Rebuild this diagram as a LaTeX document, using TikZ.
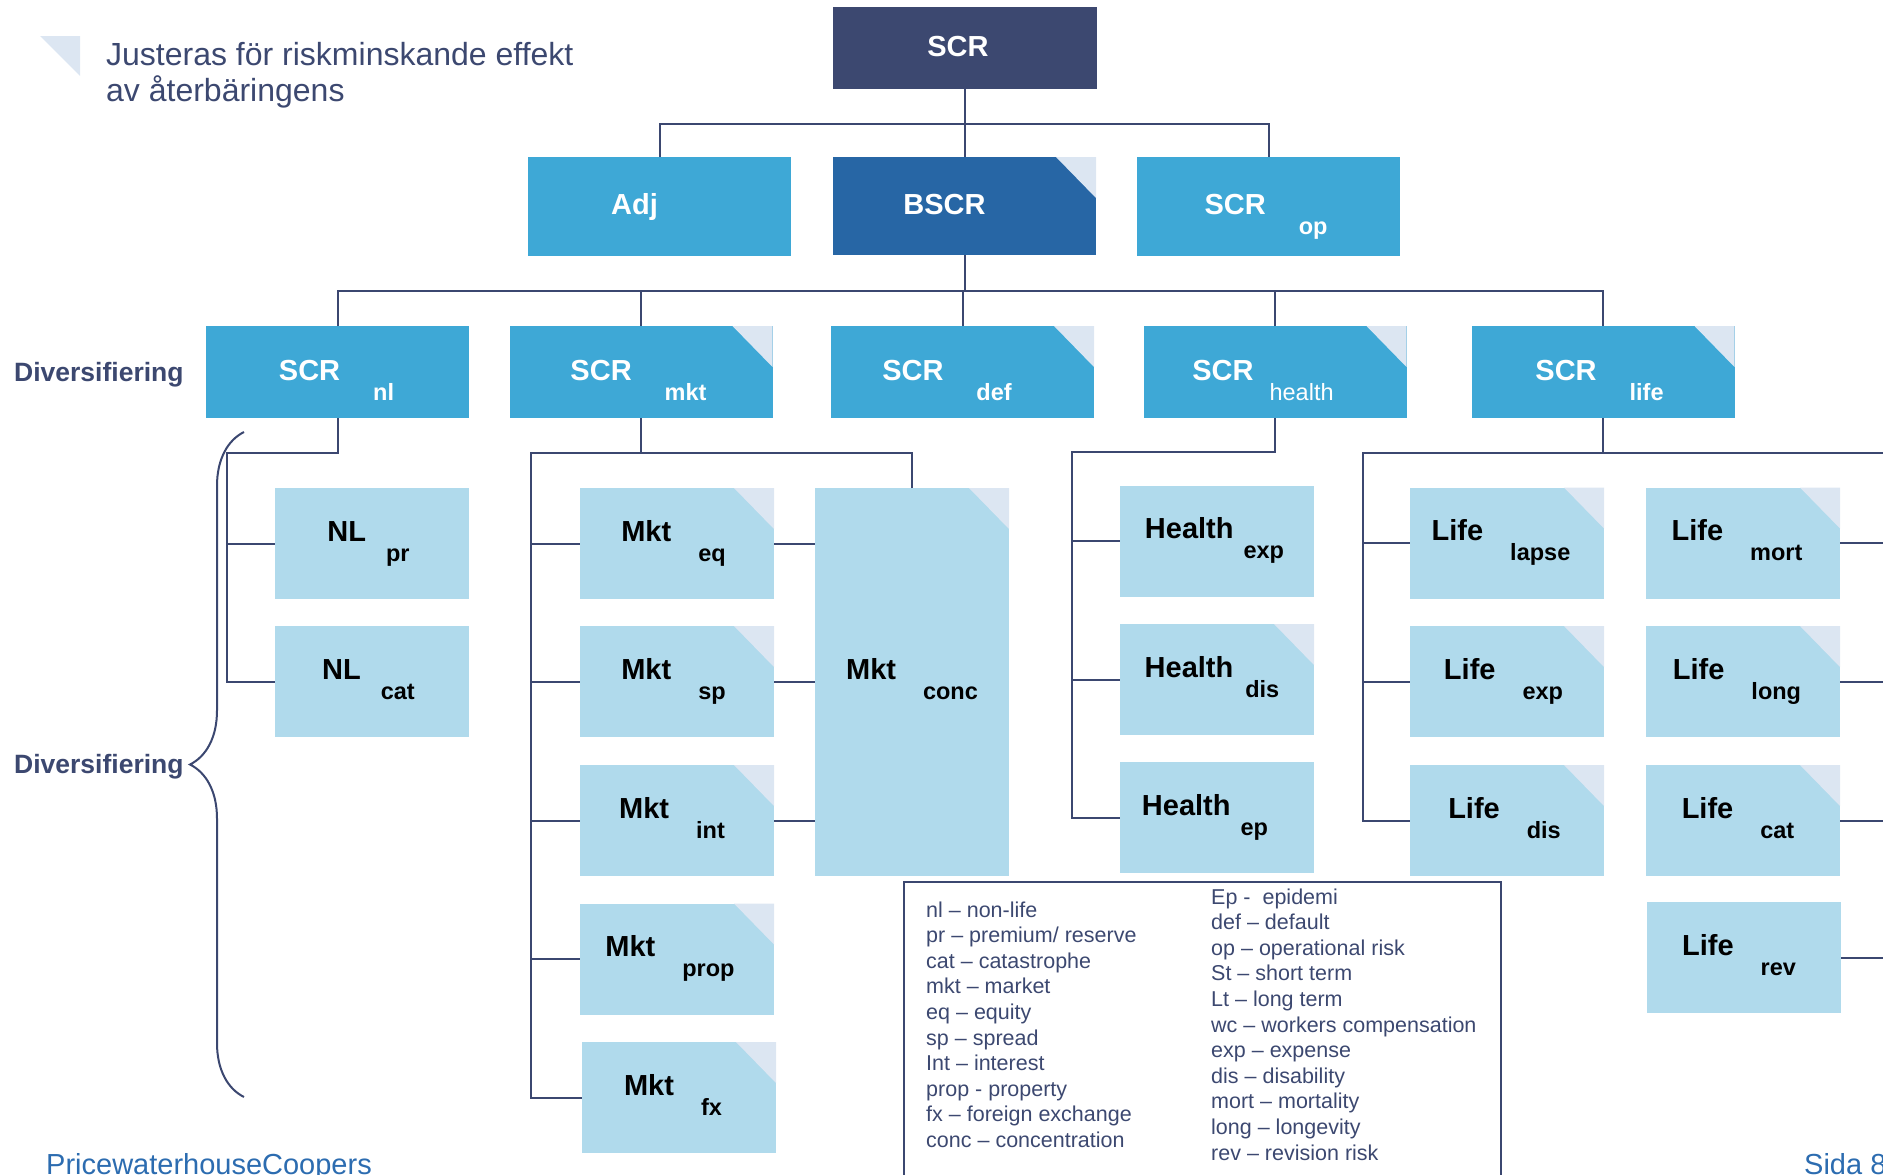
\documentclass[tikz,border=0pt]{standalone}
\usepackage{fontspec}
\setmainfont{Liberation Sans}
\usepackage{tikz}
\usetikzlibrary{calc,positioning}
\usetikzlibrary{decorations.pathreplacing}

\definecolor{scrnavy}{RGB}{60,72,112}
\definecolor{bscrblue}{RGB}{39,102,165}
\definecolor{midblue}{RGB}{62,168,214}
\definecolor{paleblue}{RGB}{176,218,236}
\definecolor{foldgrey}{RGB}{220,230,242}
\definecolor{wirenavy}{RGB}{59,71,112}
\definecolor{pwcblue}{RGB}{44,108,176}

% index below and to the right of the module name
\newcommand{\risksub}[2][27pt]{\hspace{#1}\raisebox{-20pt}{\fontsize{23.5}{26}\selectfont #2}}
% room on the right, so the text sits left of the middle
\newcommand{\padr}[1]{\hspace{#1}\mbox{}}

\tikzset{
  % box styles
  % gebruik: \node[subbox,fold] (naam) at (x,y) {Naam\risksub{index}\padr{..}};
  riskbox/.style={rectangle,inner sep=0pt,outer sep=0pt,font={\fontsize{29}{32}\selectfont\bfseries}},
  darkbox/.style={riskbox,text=white,text height=21pt,text depth=5pt},
  headbox/.style={darkbox,fill=scrnavy,minimum width=264pt,minimum height=82pt},
  topbox/.style={darkbox,fill=midblue,minimum width=263pt,minimum height=99pt},
  bscrbox/.style={darkbox,fill=bscrblue,minimum width=263pt,minimum height=98pt},
  catbox/.style={darkbox,fill=midblue,minimum width=263pt,minimum height=92pt},
  subbox/.style={riskbox,fill=paleblue,text=black,text height=21pt,text depth=26pt,
    minimum width=194pt,minimum height=111pt},
  fold/.style={path picture={\fill[foldgrey] ([xshift=-40pt]path picture bounding box.north east)
    -- (path picture bounding box.north east) -- ([yshift=-41pt]path picture bounding box.north east) -- cycle;}},
  % connector styles
  wire/.style={draw=wirenavy,line width=2pt},
  curly/.style={wire,decorate,decoration={brace,amplitude=54pt}},
  % text styles (base anchor = last line)
  note/.style={inner sep=0pt,align=left,text=scrnavy,font={\fontsize{32}{36}\selectfont}},
  divlabel/.style={inner sep=0pt,text=scrnavy,font={\fontsize{26.5}{30}\selectfont\bfseries}},
  legend/.style={inner sep=0pt,align=left,text=scrnavy,font={\fontsize{21.5}{25.6}\selectfont}},
  foot/.style={inner sep=0pt,text=pwcblue,font={\fontsize{29}{32}\selectfont}},
}

\begin{document}
\begin{tikzpicture}[x=1pt,y=-1pt]
  \useasboundingbox (0,0) rectangle (1883,1175);

  % note in the corner
  \fill[foldgrey] (40,36) -- (80,36) -- (80,76) -- cycle;
  \node[note,anchor=base west] (note) at (106,101) {Justeras för riskminskande effekt\\av återbäringens};

  % top levels
  \node[headbox] (scr) at (965,48) {SCR\padr{14pt}};
  \node[topbox] (adj) at (659.5,206.5) {Adj\padr{50pt}};
  \node[bscrbox,fold] (bscr) at (964.5,206) {BSCR\padr{40pt}};
  \node[topbox] (scrop) at (1268.5,206.5) {SCR\risksub[33pt]{op}\padr{5pt}};

  % risk modules
  \node[catbox] (scrnl) at (337.5,372) {SCR\risksub[33pt]{nl}\padr{2pt}};
  \node[catbox,fold] (scrmkt) at (641,372) {SCR\risksub[33pt]{mkt}\padr{5pt}};
  \node[catbox,fold] (scrdef) at (962.5,372) {SCR\risksub[33pt]{def}\padr{31pt}};
  \node[catbox,fold] (scrhealth) at (1275,372) {SCR\risksub[16pt]{\mdseries health}\padr{24pt}};
  \node[catbox,fold] (scrlife) at (1603,372) {SCR\risksub[33pt]{life}\padr{7pt}};

  % sub-modules
  \node[subbox] (nlpr) at (372,543.5) {NL\risksub[20pt]{pr}\padr{7pt}};
  \node[subbox] (nlcat) at (372,681.5) {NL\risksub[20pt]{cat}\padr{7pt}};

  \node[subbox,fold] (mkteq) at (677,543.5) {Mkt\risksub{eq}\padr{7pt}};
  \node[subbox,fold] (mktsp) at (677,681.5) {Mkt\risksub{sp}\padr{7pt}};
  \node[subbox,fold] (mktint) at (677,820.5) {Mkt\risksub{int}\padr{10pt}};
  \node[subbox,fold] (mktprop) at (677,959) {Mkt\risksub{prop}\padr{14pt}};
  \node[subbox,fold] (mktfx) at (679,1097.5) {Mkt\risksub{fx}\padr{12pt}};
  \node[subbox,fold,minimum height=388pt] (mktconc) at (912,682) {Mkt\risksub{conc}};

  \node[subbox] (hexp) at (1217,541) {Health\risksub[10pt]{exp}\padr{5pt}};
  \node[subbox,fold] (hdis) at (1217,679.5) {Health\risksub[12pt]{dis}\padr{10pt}};
  \node[subbox] (hep) at (1217,817.5) {Health\risksub[10pt]{ep}\padr{24pt}};

  \node[subbox,fold] (llapse) at (1507,543) {Life\risksub{lapse}\padr{12pt}};
  \node[subbox,fold] (lexp) at (1507,681.5) {Life\risksub{exp}\padr{7pt}};
  \node[subbox,fold] (ldis) at (1507,820.5) {Life\risksub{dis}\padr{5pt}};
  \node[subbox,fold] (lmort) at (1743,543) {Life\risksub{mort}\padr{12pt}};
  \node[subbox,fold] (llong) at (1743,681.5) {Life\risksub{long}\padr{12pt}};
  \node[subbox,fold] (lcat) at (1743,820.5) {Life\risksub{cat}\padr{10pt}};
  \node[subbox] (lrev) at (1744,957.5) {Life\risksub{rev}\padr{10pt}};

  % tree lines
  \coordinate (lvl1) at (965,124);
  \draw[wire] (scr.south) -- (scr.south |- bscr.north);
  \draw[wire] (adj.north) |- (lvl1) -| (scrop.north);
  \coordinate (lvl2) at (964,291);
  \draw[wire] (bscr.south) -- (bscr.south |- lvl2);
  \draw[wire] (scrnl.north) |- (lvl2) -| (scrlife.north);
  \draw[wire] (scrmkt.north) -- (scrmkt.north |- lvl2);
  \draw[wire] (scrdef.north) -- (scrdef.north |- lvl2);
  \draw[wire] (scrhealth.north) -- (scrhealth.north |- lvl2);

  \coordinate (nlbus) at (227,453);
  \draw[wire] (scrnl.south) |- (nlbus) |- (nlcat.west);
  \draw[wire] (nlbus |- nlpr.west) -- (nlpr.west);

  \coordinate (mktbus) at (531,453);
  \draw[wire] (mktconc.north) |- (mktbus) |- (mktfx.west);
  \draw[wire] (scrmkt.south) -- (scrmkt.south |- mktbus);
  \draw[wire] (mktbus |- mkteq.west) -- (mkteq.west);
  \draw[wire] (mktbus |- mktsp.west) -- (mktsp.west);
  \draw[wire] (mktbus |- mktint.west) -- (mktint.west);
  \draw[wire] (mktbus |- mktprop.west) -- (mktprop.west);
  \draw[wire] (mkteq.east) -- (mkteq.east -| mktconc.west);
  \draw[wire] (mktsp.east) -- (mktsp.east -| mktconc.west);
  \draw[wire] (mktint.east) -- (mktint.east -| mktconc.west);

  \coordinate (hbus) at (1072,452);
  \draw[wire] (scrhealth.south) |- (hbus) |- (hep.west);
  \draw[wire] (hbus |- hexp.west) -- (hexp.west);
  \draw[wire] (hbus |- hdis.west) -- (hdis.west);

  \coordinate (lbus) at (1363,453);
  \coordinate (lend) at (1883,453);
  \draw[wire] (scrlife.south) -- (scrlife.south |- lbus);
  \draw[wire] (lend) -- (lbus) |- (ldis.west);
  \draw[wire] (lbus |- llapse.west) -- (llapse.west);
  \draw[wire] (lbus |- lexp.west) -- (lexp.west);
  \draw[wire] (lmort.east) -- (lmort.east -| lend);
  \draw[wire] (llong.east) -- (llong.east -| lend);
  \draw[wire] (lcat.east) -- (lcat.east -| lend);
  \draw[wire] (lrev.east) -- (lrev.east -| lend);

  % diversification
  \node[divlabel,anchor=base west] (div1) at (14,381) {Diversifiering};
  \coordinate (brtop) at (244,432);
  \coordinate (brbot) at (244,1097);
  \draw[curly] (brbot) -- (brtop);
  \node[divlabel,anchor=base west] (div2) at (14,773) {Diversifiering};

  % abbreviations
  \coordinate (legsw) at (904,1175);
  \coordinate (legne) at (1501,882);
  \coordinate (legse) at (1501,1175);
  \draw[wire] (legsw) |- (legne) -- (legse);
  \node[legend,anchor=base west] (legl) at (926,1147.4) {nl – non-life\\pr – premium/ reserve\\cat – catastrophe\\mkt – market\\eq – equity\\sp – spread\\Int – interest\\prop - property\\fx – foreign exchange\\conc – concentration};
  \node[legend,anchor=base west] (legr) at (1211,1160) {Ep - \ epidemi\\def – default\\op – operational risk\\St – short term\\Lt – long term\\wc – workers compensation\\exp – expense\\dis – disability\\mort – mortality\\long – longevity\\rev – revision risk};

  % footer
  \node[foot,anchor=base west] (firm) at (46,1174) {PricewaterhouseCoopers};
  \node[foot,anchor=base west] (page) at (1804,1174) {Sida 8};
\end{tikzpicture}
\end{document}
